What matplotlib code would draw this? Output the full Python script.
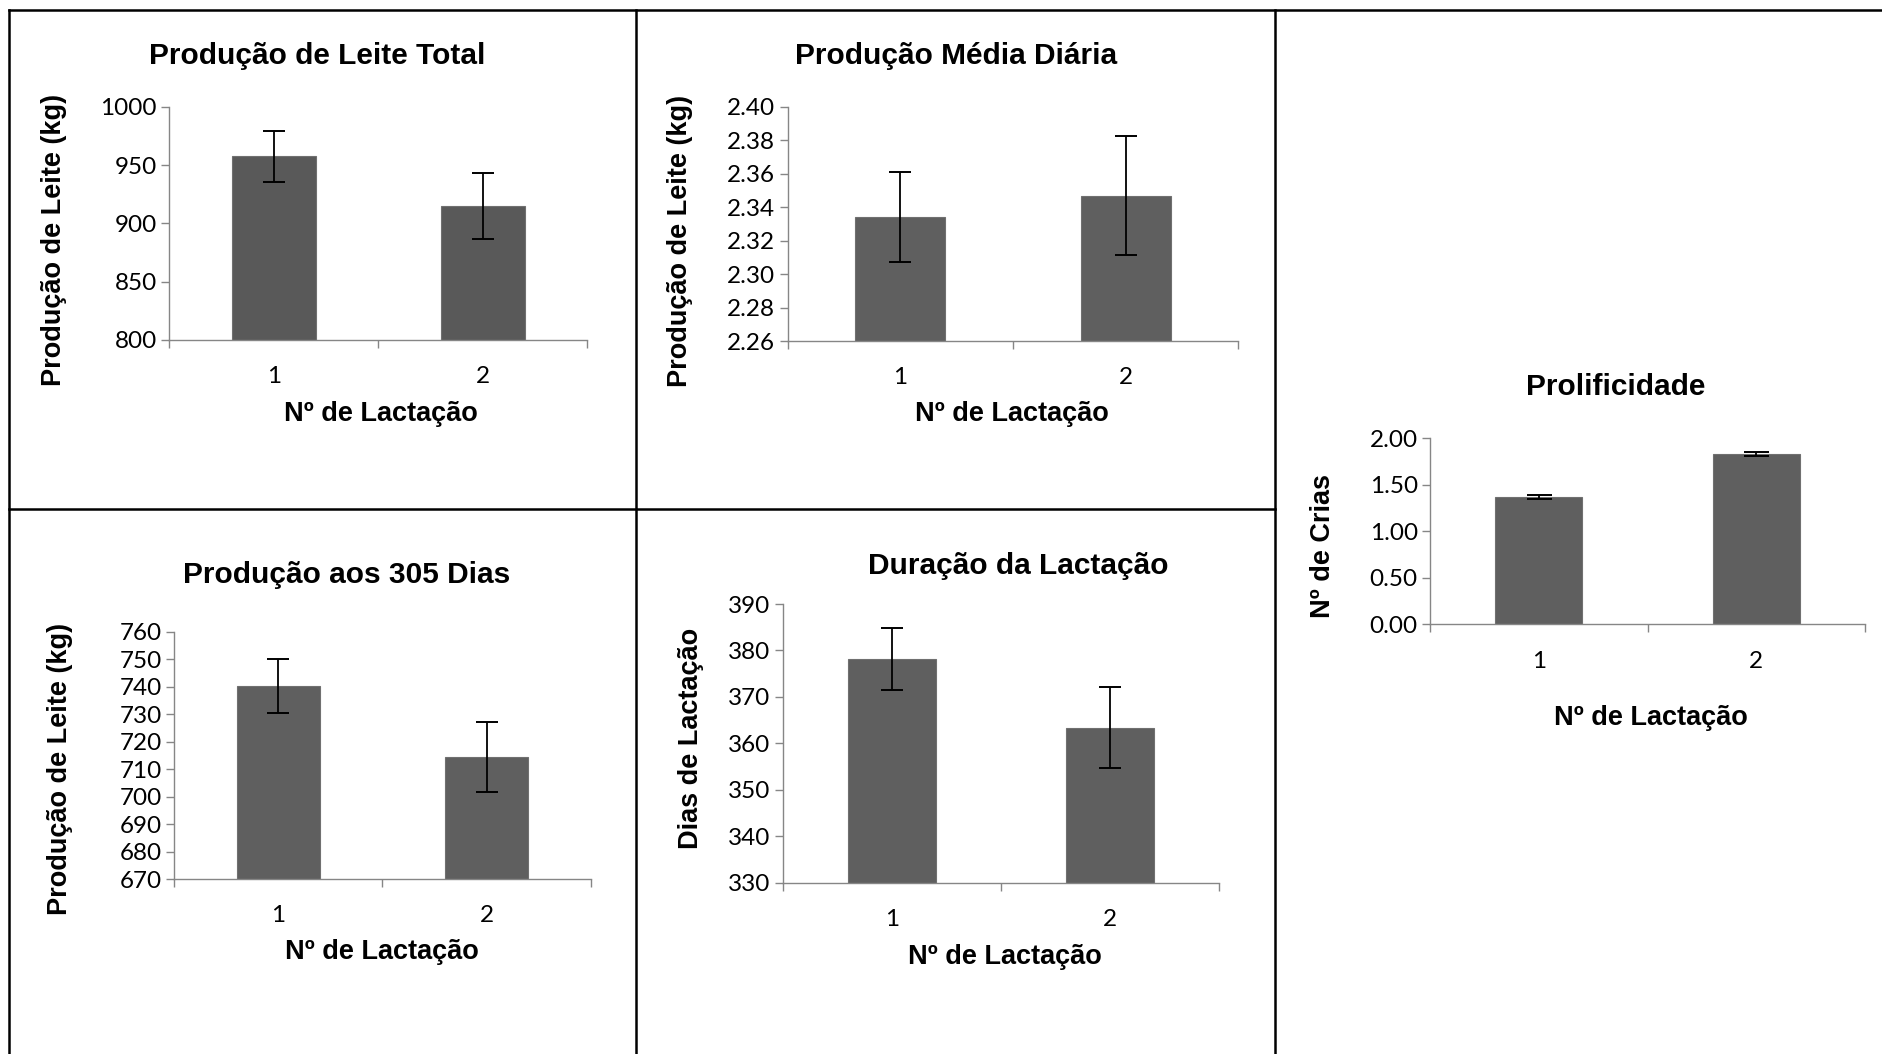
import matplotlib
matplotlib.use('Agg')
import matplotlib.pyplot as plt
from matplotlib.lines import Line2D

W, H = 1883, 1054
S = 1883 / 1568  # reference measured on shrunk copy

lactacao = ['1', '2']

leite_total = [957.5, 914.8]
leite_total_err = [22.0, 28.5]
ticks_total = [800, 850, 900, 950, 1000]

media_diaria = [2.334, 2.347]
media_diaria_err = [0.027, 0.0357]
ticks_diaria = [2.26, 2.28, 2.30, 2.32, 2.34, 2.36, 2.38, 2.40]

prod_305 = [740.3, 714.3]
prod_305_err = [9.8, 12.7]
ticks_305 = [670, 680, 690, 700, 710, 720, 730, 740, 750, 760]

duracao = [378.1, 363.4]
duracao_err = [6.7, 8.8]
ticks_duracao = [330, 340, 350, 360, 370, 380, 390]

prolif = [1.37, 1.83]
prolif_err = [0.02, 0.02]
ticks_prolif = [0.0, 0.5, 1.0, 1.5, 2.0]

BOLD = 'Liberation Sans'
TICKF = 'Lato'
AXC = '#868686'

fig = plt.figure(figsize=(W / 100, H / 100), dpi=100)


def fx(x):
    return x * S / W


def fy(y):
    return 1 - y * S / H


def panel(box, vals, errs, yticks, fmt, title, ylabel, t_xy, yl_xy, xl_xy,
          color='#5f5f5f', cap=8):
    l, t, r, b = [v * S for v in box]
    ax = fig.add_axes([l / W, 1 - b / H, (r - l) / W, (b - t) / H])
    x = [1, 2]
    ax.bar(x, vals, width=0.4, color=color, edgecolor='#707070', linewidth=0.8,
           zorder=2)
    ax.errorbar(x, vals, yerr=errs, fmt='none', ecolor='black', elinewidth=1.3,
                capsize=cap, capthick=1.4, zorder=3)
    ax.set_xlim(0.5, 2.5)
    ax.set_ylim(yticks[0], yticks[-1])
    ax.set_yticks(yticks)
    ax.set_yticklabels([fmt.format(v) for v in yticks])
    ax.set_xticks(x)
    ax.set_xticklabels(lactacao)
    ax.set_xticks([0.5, 1.5, 2.5], minor=True)
    for s in ['top', 'right']:
        ax.spines[s].set_visible(False)
    for s in ['left', 'bottom']:
        ax.spines[s].set_color(AXC)
        ax.spines[s].set_linewidth(1.0)
    ax.tick_params(axis='y', length=6, width=1.0, color=AXC, pad=3,
                   labelsize=17.5)
    ax.tick_params(axis='x', which='major', length=0, pad=19, labelsize=17.5)
    ax.tick_params(axis='x', which='minor', length=6, width=1.0, color=AXC)
    for lab in ax.get_xticklabels() + ax.get_yticklabels():
        lab.set_fontfamily(TICKF)
    fig.text(fx(t_xy[0]), fy(t_xy[1]), title, ha='center', va='center',
             fontsize=21.5, fontweight='bold', family=BOLD)
    fig.text(fx(yl_xy[0]), fy(yl_xy[1]), ylabel, ha='center', va='center',
             rotation=90, fontsize=19.5, fontweight='bold', family=BOLD)
    fig.text(fx(xl_xy[0]), fy(xl_xy[1]), 'Nº de Lactação', ha='center',
             va='center', fontsize=19.5, fontweight='bold', family=BOLD)
    return ax


panel((141, 89, 489, 283), leite_total, leite_total_err, ticks_total, '{:.0f}',
      'Produção de Leite Total', 'Produção de Leite (kg)',
      (264, 47), (45, 200), (317, 345), color='#595959')
panel((656, 89, 1031, 284), media_diaria, media_diaria_err, ticks_diaria, '{:.2f}',
      'Produção Média Diária', 'Produção de Leite (kg)',
      (796, 47), (566, 201), (843, 345))
panel((145, 526, 492, 732), prod_305, prod_305_err, ticks_305, '{:.0f}',
      'Produção aos 305 Dias', 'Produção de Leite (kg)',
      (289, 479), (50, 640), (318, 793))
panel((652, 503, 1015, 735), duracao, duracao_err, ticks_duracao, '{:.0f}',
      'Duração da Lactação', 'Dias de Lactação',
      (848, 471), (575, 615), (837, 797))
panel((1191, 365, 1553, 520), prolif, prolif_err, ticks_prolif, '{:.2f}',
      'Prolificidade', 'Nº de Crias',
      (1345, 322), (1102, 455), (1375, 598), cap=9)

# table-like frame around the panels
frame = [
    ((9, 1883), (10, 10)),
    ((9, 9), (10, 1054)),
    ((636, 636), (10, 1054)),
    ((1275, 1275), (10, 1054)),
    ((9, 1275), (509, 509)),
]
for xs, ys in frame:
    fig.add_artist(Line2D([v / W for v in xs], [1 - v / H for v in ys],
                          color='black', linewidth=1.8,
                          transform=fig.transFigure))

fig.savefig('out.png', dpi=100, facecolor='white')
